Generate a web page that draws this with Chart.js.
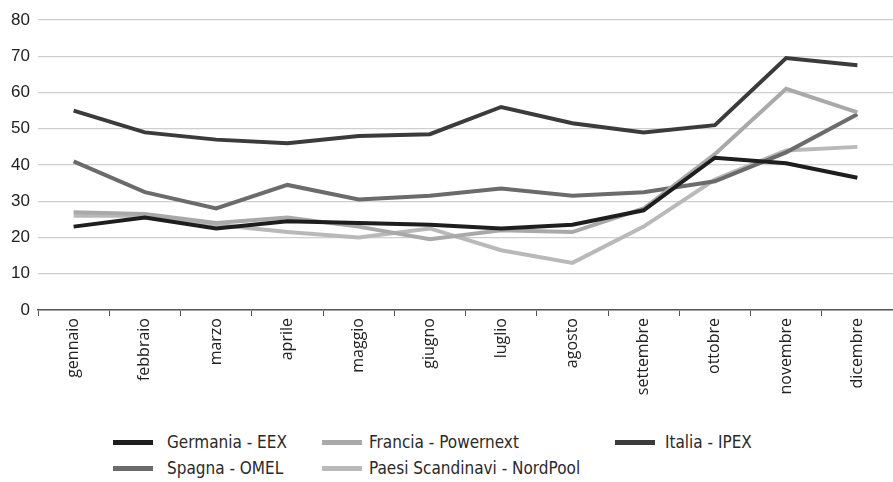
<!DOCTYPE html>
<html>
<head>
<meta charset="utf-8">
<script src="https://cdn.jsdelivr.net/npm/chart.js@4/dist/chart.umd.min.js"></script>
<style>
  html, body { margin: 0; padding: 0; background: #fff; }
  #wrap { position: relative; width: 893px; height: 482px; overflow: hidden; }
  #chart { position: absolute; left: 0; top: 0; }
  .leg { position: absolute; height: 24px; line-height: 24px; white-space: nowrap;
         font-family: "Liberation Sans Narrow", "DejaVu Sans Condensed", sans-serif;
         font-size: 17px; color: #2a2a2a; }
  .sw { position: absolute; width: 40px; height: 5px; }
</style>
</head>
<body>
<div id="wrap">
  <canvas id="chart" width="893" height="410"></canvas>
  <div id="legend"></div>
</div>
<script>
const mesi = ["gennaio", "febbraio", "marzo", "aprile", "maggio", "giugno",
  "luglio", "agosto", "settembre", "ottobre", "novembre", "dicembre"];

const germania = [23, 25.5, 22.5, 24.5, 24, 23.5, 22.5, 23.5, 27.5, 42, 40.5, 36.5];
const francia = [27, 26.5, 24, 25.5, 23, 19.5, 22, 21.5, 28, 43, 61, 54.5];
const italia = [55, 49, 47, 46, 48, 48.5, 56, 51.5, 49, 51, 69.5, 67.5];
const spagna = [41, 32.5, 28, 34.5, 30.5, 31.5, 33.5, 31.5, 32.5, 35.5, 43.5, 54];
const nordpool = [26, 26, 23.5, 21.5, 20, 22.5, 16.5, 13, 23, 36, 44, 45];

const serie = [
  { label: "Germania - EEX", data: germania, color: "#1e1e1e" },
  { label: "Francia - Powernext", data: francia, color: "#a9a9a9" },
  { label: "Italia - IPEX", data: italia, color: "#3b3b3b" },
  { label: "Spagna - OMEL", data: spagna, color: "#6b6b6b" },
  { label: "Paesi Scandinavi - NordPool", data: nordpool, color: "#b9b9b9" },
];

// legend, laid out like the original (two rows, aligned columns)
const legPos = [
  { sx: 113, tx: 167, y: 442 },
  { sx: 322, tx: 369, y: 442 },
  { sx: 615, tx: 665, y: 442 },
  { sx: 113, tx: 167, y: 468 },
  { sx: 322, tx: 369, y: 468 },
];
const legend = document.getElementById("legend");
serie.forEach((s, i) => {
  const p = legPos[i];
  const sw = document.createElement("div");
  sw.className = "sw";
  sw.style.left = p.sx + "px";
  sw.style.top = (p.y - 2) + "px";
  sw.style.background = s.color;
  legend.appendChild(sw);
  const t = document.createElement("div");
  t.className = "leg";
  t.style.left = p.tx + "px";
  t.style.top = (p.y - 12) + "px";
  t.textContent = s.label;
  legend.appendChild(t);
});

const chart = new Chart(document.getElementById("chart"), {
  type: "line",
  data: {
    labels: mesi,
    datasets: serie.map((s) => ({
      label: s.label,
      data: s.data,
      borderColor: s.color,
      backgroundColor: s.color,
      borderWidth: 4,
      pointRadius: 0,
      tension: 0,
      fill: false,
    })),
  },
  options: {
    responsive: false,
    animation: false,
    layout: { padding: { top: 20, right: 0, left: 0, bottom: 0 } },
    plugins: {
      legend: { display: false },
      tooltip: { enabled: false },
    },
    scales: {
      x: {
        offset: true,
        afterFit: (scale) => { scale.height = 100; },
        grid: {
          offset: true,
          drawOnChartArea: false,
          drawTicks: true,
          tickLength: 6,
          color: "#555",
        },
        border: { display: true, color: "#555", width: 1.5 },
        ticks: {
          autoSkip: false,
          maxRotation: 90,
          minRotation: 90,
          padding: 2,
          color: "#222",
          font: { family: "'Open Sans', 'DejaVu Sans', sans-serif", size: 16 },
        },
      },
      y: {
        min: 0,
        max: 80,
        afterFit: (scale) => { scale.width = 38; },
        grid: { color: "#cfcfcf", lineWidth: 1.2, drawTicks: false },
        border: { display: false },
        ticks: {
          stepSize: 10,
          padding: 8,
          color: "#222",
          font: { family: "'Liberation Sans', Arial, sans-serif", size: 17 },
        },
      },
    },
  },
});
</script>
</body>
</html>
